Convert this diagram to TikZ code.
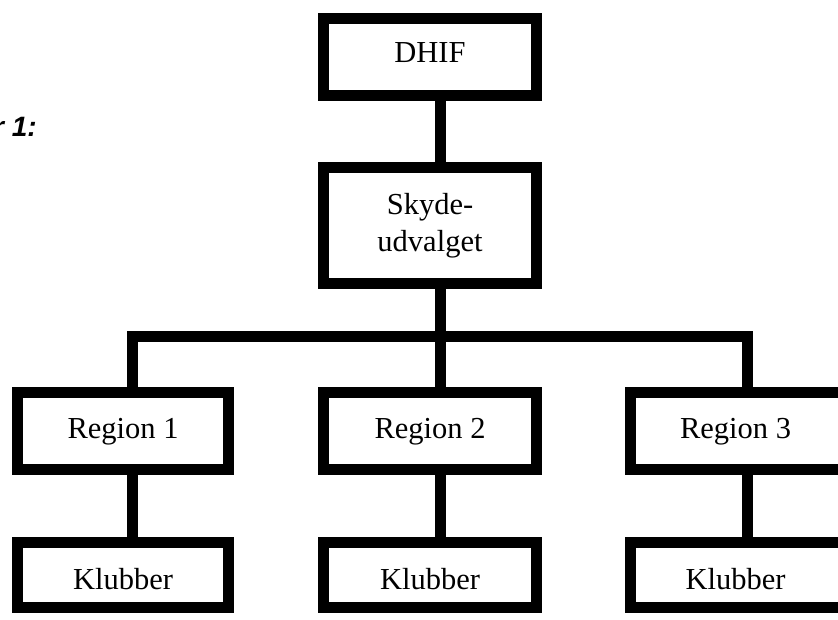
\documentclass[tikz,border=0pt]{standalone}
\usepackage{fontspec}
\setmainfont{Liberation Serif}
\newfontfamily\capfont{Liberation Sans}
\tikzset{
  orgbox/.style={draw=black, line width=11pt, inner sep=0pt, outer sep=0pt,
    font=\fontsize{30.5}{37}\selectfont, align=center, fill=white},
  wide/.style={minimum width=213pt},
  topbox/.style={minimum height=77pt, text height=20pt, text depth=8pt},
  regbox/.style={minimum height=77pt, text height=21pt, text depth=6pt},
  clubbox/.style={minimum height=65pt, text height=28pt, text depth=0pt},
  link/.style={draw=black, line width=11pt, line join=miter}
}
\begin{document}
\begin{tikzpicture}[x=1pt,y=1pt]
\useasboundingbox (0,0) rectangle (838,619);
\clip (0,0) rectangle (838,619);
\fill[white] (0,0) rectangle (838,619);
% named points of the bus line
\coordinate (busL) at (132,282);
\coordinate (busM) at (440,282);
\coordinate (busR) at (747,282);
% boxes
\node[orgbox, wide, topbox] (dhif) at (430,562) {DHIF};
\node[orgbox, wide, minimum height=116pt] (skyde) at (430,393.5) {Skyde-\\udvalget};
\node[orgbox, minimum width=211pt, regbox] (r1) at (123,188) {Region 1};
\node[orgbox, wide, regbox] (r2) at (430,188) {Region 2};
\node[orgbox, minimum width=222pt, regbox] (r3) at (741.5,188) {Region 3\hspace*{12pt}};
\node[orgbox, minimum width=211pt, clubbox] (k1) at (123,44) {Klubber};
\node[orgbox, wide, clubbox] (k2) at (430,44) {Klubber};
\node[orgbox, minimum width=222pt, clubbox] (k3) at (741.5,44) {Klubber\hspace*{12pt}};
% caption fragment
\node[font=\capfont\bfseries\itshape\fontsize{28}{30}\selectfont, inner sep=0pt, anchor=base east] (cap) at (37,482) {r 1:};
% connectors
\draw[link] (dhif.south -| busM) -- (skyde.north -| busM);
\draw[link] (skyde.south -| busM) -- (busM);
\draw[link] (r1.north -| busL) -- (busL) -- (busR) -- (r3.north -| busR);
\draw[link] (busM) -- (r2.north -| busM);
\draw[link] (r1.south -| busL) -- (k1.north -| busL);
\draw[link] (r2.south -| busM) -- (k2.north -| busM);
\draw[link] (r3.south -| busR) -- (k3.north -| busR);
\end{tikzpicture}
\end{document}
